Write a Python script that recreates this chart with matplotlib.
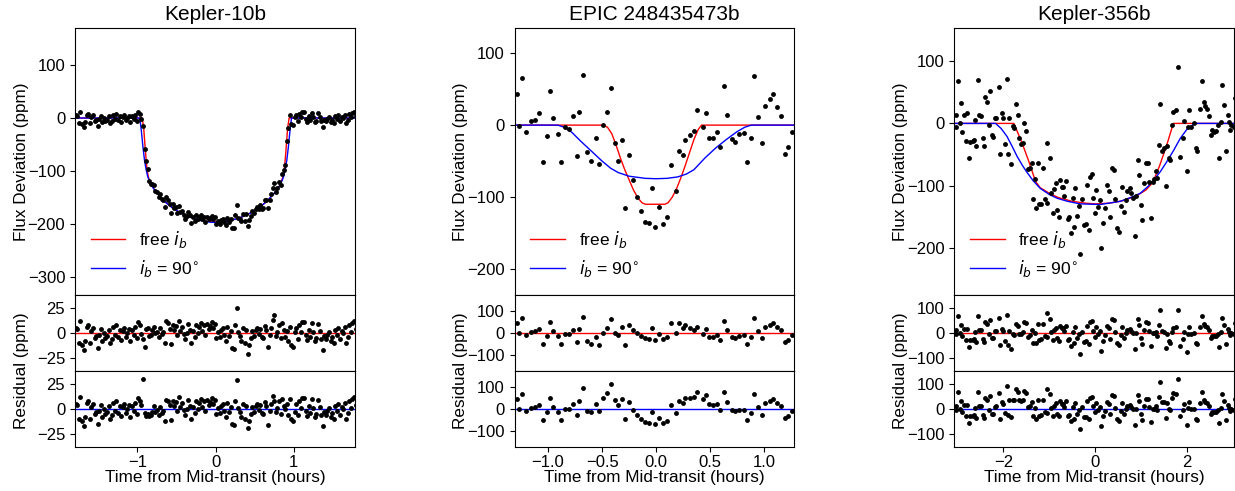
import matplotlib
matplotlib.use("Agg")
import matplotlib.pyplot as plt

plt.rcParams["font.family"] = ["Liberation Sans", "DejaVu Sans"]
plt.rcParams["mathtext.fontset"] = "dejavusans"

titles = ["Kepler-10b", "EPIC 248435473b", "Kepler-356b"]

# ---------------- Kepler-10b (binned light curve, hours / ppm) ----------------
k10_t = [-1.79, -1.77, -1.75, -1.73, -1.71, -1.69, -1.67, -1.65, -1.63, -1.61,
         -1.59, -1.57, -1.55, -1.53, -1.51, -1.49, -1.47, -1.45, -1.43, -1.41,
         -1.39, -1.37, -1.35, -1.33, -1.31, -1.29, -1.27, -1.25, -1.23, -1.21,
         -1.19, -1.17, -1.15, -1.13, -1.11, -1.09, -1.07, -1.05, -1.03, -1.01,
         -0.99, -0.97, -0.95, -0.93, -0.91, -0.89, -0.87, -0.85, -0.83, -0.81,
         -0.79, -0.77, -0.75, -0.73, -0.71, -0.69, -0.67, -0.65, -0.63, -0.61,
         -0.59, -0.57, -0.55, -0.53, -0.51, -0.49, -0.47, -0.45, -0.43, -0.41,
         -0.39, -0.37, -0.35, -0.33, -0.31, -0.29, -0.27, -0.25, -0.23, -0.21,
         -0.19, -0.17, -0.15, -0.13, -0.11, -0.09, -0.07, -0.05, -0.03, -0.01,
         0.01, 0.03, 0.05, 0.07, 0.09, 0.11, 0.13, 0.15, 0.17, 0.19,
         0.21, 0.23, 0.25, 0.27, 0.29, 0.31, 0.33, 0.35, 0.37, 0.39,
         0.41, 0.43, 0.45, 0.47, 0.49, 0.51, 0.53, 0.55, 0.57, 0.59,
         0.61, 0.63, 0.65, 0.67, 0.69, 0.71, 0.73, 0.75, 0.77, 0.79,
         0.81, 0.83, 0.85, 0.87, 0.89, 0.91, 0.93, 0.95, 0.97, 0.99,
         1.01, 1.03, 1.05, 1.07, 1.09, 1.11, 1.13, 1.15, 1.17, 1.19,
         1.21, 1.23, 1.25, 1.27, 1.29, 1.31, 1.33, 1.35, 1.37, 1.39,
         1.41, 1.43, 1.45, 1.47, 1.49, 1.51, 1.53, 1.55, 1.57, 1.59,
         1.61, 1.63, 1.65, 1.67, 1.69, 1.71, 1.73, 1.75, 1.77, 1.79]
k10_flux = [5, 4, -10, 12, -12, -17, -8, 6, 8, -10,
            2, 5, -5, -3, -15, -2, 4, -8, 0, -5,
            -3, 3, -10, -6, 6, -2, 8, -4, 3, -7,
            2, 5, -4, 0, 4, -8, 3, -2, 6, -5,
            11, 8, -1, -16, -59, -81, -97, -118, -124, -125,
            -127, -137, -140, -149, -144, -153, -154, -168, -149, -154,
            -163, -180, -163, -170, -168, -179, -166, -178, -175, -183,
            -190, -185, -177, -184, -198, -187, -194, -183, -191, -186,
            -183, -191, -186, -196, -186, -191, -188, -185, -191, -187,
            -201, -195, -200, -192, -190, -197, -202, -188, -196, -191,
            -207, -207, -183, -165, -188, -191, -195, -181, -195, -181,
            -203, -193, -185, -176, -180, -172, -168, -172, -165, -171,
            -169, -154, -155, -169, -154, -144, -132, -123, -140, -132,
            -120, -127, -105, -99, -89, -43, -18, 6, -12, -14,
            1, 5, -6, 8, 1, 11, 11, -2, -7, 3,
            -4, 10, 1, -8, -5, 9, 2, -6, -17, -3,
            -6, -2, 1, -8, -4, -10, 3, -2, 5, -6,
            2, 0, 6, -10, -4, 8, 1, 10, 12, 4]
k10_res_free = [5, 4, -10, 12, -12, -17, -8, 6, 8, -10,
                2, 5, -5, -3, -15, -2, 4, -8, 0, -5,
                -3, 3, -10, -6, 6, -2, 8, -4, 3, -7,
                2, 5, -4, 0, 4, -8, 3, -2, 6, -5,
                11, 8, -1, -6, -14, 4, 5, -3, -2, 3,
                6, 0, 1, -4, 5, -1, 1, -10, 12, 10,
                4, -11, 8, 3, 7, -2, 12, 2, 6, -1,
                -6, 0, 9, 3, -10, 2, -4, 8, 0, 6,
                10, 2, 8, -2, 9, 4, 7, 11, 5, 9,
                -5, 1, -4, 3, 5, -2, -8, 6, -3, 2,
                -15, -16, 8, 25, 1, -3, -8, 5, -10, 3,
                -21, -12, -5, 2, -3, 3, 5, -1, 4, -4,
                -5, 7, 3, -14, -2, 5, 13, 18, -3, 1,
                8, -5, 10, 3, -4, 2, -8, 6, -12, -14,
                1, 5, -6, 8, 1, 11, 11, -2, -7, 3,
                -4, 10, 1, -8, -5, 9, 2, -6, -17, -3,
                -6, -2, 1, -8, -4, -10, 3, -2, 5, -6,
                2, 0, 6, -10, -4, 8, 1, 10, 12, 4]
k10_res_90 = [5, 4, -10, 12, -12, -17, -8, 6, 8, -10,
              2, 5, -5, -3, -15, -2, 4, -8, 0, -5,
              -3, 3, -10, -6, 6, -2, 8, -4, 3, -7,
              2, 5, -4, 0, 4, -8, 3, -2, 6, -5,
              11, 8, 4, 30, -4, -7, -5, -7, -6, -3,
              3, -3, -1, -6, 2, -4, -2, -12, 9, 8,
              4, -11, 8, 3, 7, -2, 12, 2, 6, -1,
              -6, 0, 9, 3, -10, 2, -4, 8, 0, 6,
              10, 2, 8, -2, 9, 4, 7, 11, 5, 9,
              -5, 1, -4, 3, 5, -2, -8, 6, -3, 2,
              -15, -16, 8, 29, 1, -3, -8, 5, -10, 3,
              -19, -12, -5, 2, -3, 3, 5, -1, 4, -4,
              -5, 7, 3, -16, -2, 5, 13, 8, -3, 1,
              8, -5, 10, 3, 0, 5, -6, 10, -10, -12,
              -3, 5, -6, 8, 1, 11, 11, -2, -7, 3,
              -4, 10, 1, -8, -5, 9, 2, -6, -17, -3,
              -6, -2, 1, -8, -4, -10, 3, -2, 5, -6,
              2, 0, 6, -10, -4, 8, 1, 10, 12, 4]
k10_free_t = [-1.80, -0.94, -0.92, -0.90, -0.88, -0.86, -0.82, -0.75, -0.65, -0.55,
              -0.45, -0.35, -0.25, -0.15, -0.05, 0.05, 0.15, 0.25, 0.35, 0.45,
              0.55, 0.65, 0.75, 0.82, 0.86, 0.88, 0.90, 0.92, 0.94, 1.80]
k10_free_f = [0, 0, -20, -60, -95, -112, -127, -142, -158, -170,
              -179, -186, -191, -194, -196, -196, -194, -191, -186, -179,
              -170, -158, -142, -127, -112, -95, -60, -20, 0, 0]
k10_90_t = [-1.80, -0.97, -0.95, -0.93, -0.91, -0.89, -0.87, -0.85, -0.82, -0.75,
            -0.65, -0.55, -0.45, -0.35, -0.25, -0.15, -0.05, 0.05, 0.15, 0.25,
            0.35, 0.45, 0.55, 0.65, 0.75, 0.82, 0.85, 0.87, 0.89, 0.91,
            0.93, 0.95, 0.97, 1.80]
k10_90_f = [0, 0, -25, -55, -80, -97, -110, -118, -128, -142,
            -158, -170, -179, -186, -191, -195, -197, -197, -195, -191,
            -186, -179, -170, -158, -142, -128, -118, -110, -97, -80,
            -55, -25, 0, 0]

# ---------------- EPIC 248435473b ----------------
ep_t = [-1.29, -1.27, -1.24, -1.20, -1.16, -1.12, -1.08, -1.05, -1.01, -0.98,
        -0.95, -0.91, -0.88, -0.84, -0.81, -0.77, -0.73, -0.71, -0.68, -0.64,
        -0.60, -0.56, -0.53, -0.49, -0.45, -0.42, -0.38, -0.35, -0.32, -0.29,
        -0.25, -0.21, -0.18, -0.14, -0.10, -0.07, -0.04, -0.01, 0.03, 0.06,
        0.10, 0.14, 0.18, 0.21, 0.25, 0.27, 0.31, 0.35, 0.38, 0.43,
        0.46, 0.49, 0.53, 0.56, 0.59, 0.63, 0.66, 0.70, 0.73, 0.77,
        0.81, 0.84, 0.88, 0.91, 0.94, 0.98, 1.01, 1.05, 1.08, 1.12,
        1.16, 1.19, 1.22, 1.26]
ep_flux = [43, -1, 66, -10, 6, 7, 17, -51, -15, 48,
           10, -12, -51, -3, -6, 13, -43, 18, 70, -38,
           -50, -18, -54, 0, 18, 52, -25, -50, -21, -115,
           -41, -76, -100, -119, -134, -136, -87, -141, -114, -137,
           -128, -56, -92, -36, -42, -21, -14, -8, 21, -3,
           17, -18, -18, -9, -30, 55, 14, -19, -23, -12,
           -11, -51, -18, 68, 11, -25, 27, 36, 43, 25,
           12, -40, -30, -9]
ep_res_free = [43, -1, 66, -10, 6, 7, 17, -51, -15, 48,
               10, -12, -51, -3, -6, 13, -43, 18, 70, -38,
               -50, -18, -54, 0, 21, 62, 0, -10, 29, -53,
               35, 14, -1, -13, -24, -26, 23, -31, -4, -27,
               -19, 46, -1, 45, 21, 35, 24, 12, 29, -3,
               17, -18, -18, -9, -30, 55, 14, -19, -23, -12,
               -11, -51, -18, 68, 11, -25, 27, 36, 43, 25,
               12, -40, -30, -9]
ep_res_90 = [43, -1, 66, -10, 6, 7, 17, -51, -15, 48,
             10, -12, -50, 1, 1, 24, -27, 37, 94, -8,
             -14, 24, -8, 51, 74, 112, 39, 16, 47, -46,
             30, -4, -27, -45, -60, -62, -12, -66, -40, -63,
             -54, 17, -20, 36, 28, 48, 51, 54, 78, 47,
             62, 22, 17, 21, -4, 77, 33, -4, -11, -3,
             -6, -48, -18, 68, 11, -25, 27, 36, 43, 25,
             12, -40, -30, -9]
ep_free_t = [-1.30, -0.49, -0.45, -0.41, -0.37, -0.33, -0.29, -0.25, -0.21, -0.17,
             -0.13, -0.10, 0.08, 0.11, 0.15, 0.19, 0.23, 0.27, 0.31, 0.35,
             0.39, 0.42, 1.30]
ep_free_f = [0, 0, -3, -12, -28, -46, -62, -76, -90, -101,
             -108, -110, -110, -108, -100, -88, -73, -56, -38, -20,
             -6, 0, 0]
ep_90_t = [-1.30, -0.91, -0.85, -0.78, -0.70, -0.60, -0.50, -0.42, -0.35, -0.25,
           -0.10, 0.0, 0.10, 0.20, 0.28, 0.35, 0.45, 0.55, 0.65, 0.75,
           0.82, 0.88, 1.30]
ep_90_f = [0, 0, -3, -10, -22, -36, -50, -60, -66, -71,
           -74, -74.5, -74, -72, -68, -62, -46, -32, -20, -9,
           -3, 0, 0]

# ---------------- Kepler-356b ----------------
k356_t = [-3.04, -3.02, -2.99, -2.95, -2.92, -2.89, -2.85, -2.81, -2.79, -2.75,
          -2.72, -2.67, -2.64, -2.62, -2.59, -2.55, -2.52, -2.49, -2.45, -2.42,
          -2.39, -2.36, -2.32, -2.28, -2.25, -2.22, -2.19, -2.15, -2.09, -2.07,
          -2.03, -2.01, -1.97, -1.92, -1.90, -1.87, -1.83, -1.80, -1.76, -1.73,
          -1.69, -1.65, -1.62, -1.58, -1.54, -1.50, -1.46, -1.43, -1.38, -1.36,
          -1.32, -1.29, -1.25, -1.22, -1.17, -1.14, -1.09, -1.05, -1.04, -0.99,
          -0.96, -0.92, -0.89, -0.86, -0.83, -0.79, -0.76, -0.72, -0.70, -0.67,
          -0.63, -0.60, -0.57, -0.53, -0.49, -0.46, -0.43, -0.40, -0.36, -0.33,
          -0.28, -0.24, -0.20, -0.18, -0.14, -0.12, -0.08, -0.05, -0.01, 0.01,
          0.05, 0.10, 0.13, 0.17, 0.21, 0.25, 0.29, 0.33, 0.37, 0.40,
          0.43, 0.48, 0.52, 0.56, 0.59, 0.63, 0.67, 0.70, 0.75, 0.78,
          0.82, 0.86, 0.89, 0.92, 0.96, 0.99, 1.02, 1.07, 1.10, 1.14,
          1.17, 1.21, 1.25, 1.28, 1.32, 1.35, 1.39, 1.42, 1.46, 1.49,
          1.53, 1.56, 1.60, 1.63, 1.68, 1.70, 1.75, 1.81, 1.85, 1.91,
          1.93, 1.99, 2.01, 2.05, 2.08, 2.14, 2.20, 2.22, 2.28, 2.32,
          2.36, 2.39, 2.43, 2.47, 2.51, 2.55, 2.59, 2.63, 2.67, 2.70,
          2.73, 2.76, 2.80, 2.85, 2.88, 2.91, 2.93, 2.96, 3.01, 3.04]
k356_flux = [-5, 13, 68, 1, 32, -13, 14, -28, 17, -55,
             -30, -28, -26, 5, -36, 69, 13, 12, -23, -36,
             43, 34, -3, 52, -19, -22, 9, 9, 59, -49,
             16, 9, -33, 72, -49, 8, -65, -4, -8, 31,
             14, -24, -33, -31, 1, -12, -73, -72, -63, -121,
             -89, -136, -63, -130, -129, -72, -121, -128, -31, -55,
             -111, -144, -105, -96, -139, -150, -91, -102, -102, -116,
             -93, -153, -150, -176, -120, -166, -104, -148, -133, -210,
             -122, -163, -162, -99, -171, -86, -81, -120, -144, -106,
             -134, -123, -200, -159, -136, -99, -108, -150, -71, -74,
             -122, -167, -174, -132, -102, -142, -123, -109, -104, -111,
             -119, -180, -117, -59, -82, -131, -155, -95, -63, -63,
             -94, -151, -94, -89, -76, -87, -34, 31, -45, -40,
             -100, -37, -56, -59, -3, 18, 22, 90, -54, -24,
             4, -76, -5, 22, -5, 0, -40, -45, 23, 68,
             34, 28, 23, 12, -19, -11, -14, -12, -3, -55,
             2, 61, 30, -44, 14, 3, -10, -2, -5, 41]
k356_res_free = [-5, 13, 68, 1, 32, -13, 14, -28, 17, -55,
                 -30, -28, -26, 5, -36, 69, 13, 12, -23, -36,
                 43, 34, -3, 52, -19, -22, 9, 9, 59, -49,
                 16, 9, -33, 72, -49, 8, -65, -4, -7, 36,
                 26, -3, -6, 3, 43, 38, -15, -8, 12, -42,
                 -1, -42, 35, -29, -25, 34, -13, -18, 79, 57,
                 2, -29, 11, 21, -21, -31, 29, 19, 19, 6,
                 29, -30, -26, -52, 5, -41, 22, -22, -6, -83,
                 5, -35, -34, 29, -43, 42, 48, 9, -15, 23,
                 -5, 6, -71, -31, -8, 29, 20, -23, 56, 52,
                 4, -42, -49, -8, 22, -19, -1, 12, 16, 8,
                 -1, -63, -1, 56, 31, -19, -44, 13, 43, 40,
                 7, -53, 1, 0, 4, -13, 32, 91, 6, 5,
                 -60, -3, -32, -41, 2, 18, 22, 90, -54, -24,
                 4, -76, -5, 22, -5, 0, -40, -45, 23, 68,
                 34, 28, 23, 12, -19, -11, -14, -12, -3, -55,
                 2, 61, 30, -44, 14, 3, -10, -2, -5, 41]
k356_res_90 = [-5, 13, 68, 1, 32, -13, 14, -28, 17, -55,
               -30, -28, -26, 5, -36, 69, 13, 12, -23, -36,
               43, 34, -3, 52, -19, -22, 9, 10, 64, -42,
               26, 21, -17, 93, -25, 36, -31, 34, 36, 80,
               68, 35, 30, 37, 73, 65, 8, 12, 26, -30,
               5, -39, 37, -28, -23, 35, -11, -16, 81, 59,
               4, -27, 13, 23, -19, -29, 31, 20, 21, 8,
               31, -28, -25, -50, 6, -39, 23, -20, -5, -81,
               7, -34, -33, 30, -41, 44, 49, 10, -14, 24,
               -4, 7, -70, -30, -7, 29, 20, -22, 56, 53,
               5, -41, -49, -7, 22, -19, -1, 12, 16, 8,
               -1, -64, -2, 55, 30, -20, -46, 11, 41, 39,
               6, -54, -1, 1, 10, -3, 46, 108, 28, 29,
               -35, 24, 1, -6, 44, 62, 59, 119, -30, -6,
               20, -66, 3, 28, -1, 1, -40, -45, 23, 68,
               34, 28, 23, 12, -19, -11, -14, -12, -3, -55,
               2, 61, 30, -44, 14, 3, -10, -2, -5, 41]
k356_free_t = [-3.05, -1.77, -1.60, -1.45, -1.30, -1.20, -1.00, -0.80, -0.50, -0.20,
               0.0, 0.30, 0.60, 0.90, 1.10, 1.25, 1.40, 1.55, 1.70, 3.05]
k356_free_f = [0, 0, -30, -60, -93, -103, -112, -119, -125, -128,
               -129, -128, -124, -116, -107, -95, -68, -36, 0, 0]
k356_90_t = [-3.05, -2.17, -2.05, -1.92, -1.80, -1.70, -1.58, -1.49, -1.35, -1.20,
             -1.00, -0.83, -0.60, -0.33, 0.11, 0.54, 0.80, 0.98, 1.15, 1.27,
             1.42, 1.56, 1.70, 1.85, 2.00, 2.17, 3.05]
k356_90_f = [0, 0, -8, -21, -38, -53, -68, -78, -92, -104,
             -114, -120, -125, -129, -130, -125, -118, -112, -101, -91,
             -77, -61, -44, -24, -9, 0, 0]

panels = [
    dict(t=k10_t, flux=k10_flux, r1=k10_res_free, r2=k10_res_90,
         mt1=k10_free_t, mf1=k10_free_f, mt2=k10_90_t, mf2=k10_90_f,
         xlim=(-1.8, 1.78), ylim=(-334, 170), rlim=38,
         xticks=[-1, 0, 1], yticks=[100, 0, -100, -200, -300], rticks=[25, 0, -25],
         xfmt="{:g}"),
    dict(t=ep_t, flux=ep_flux, r1=ep_res_free, r2=ep_res_90,
         mt1=ep_free_t, mf1=ep_free_f, mt2=ep_90_t, mf2=ep_90_f,
         xlim=(-1.31, 1.28), ylim=(-236, 135), rlim=172,
         xticks=[-1.0, -0.5, 0.0, 0.5, 1.0], yticks=[100, 0, -100, -200],
         rticks=[100, 0, -100], xfmt="{:.1f}"),
    dict(t=k356_t, flux=k356_flux, r1=k356_res_free, r2=k356_res_90,
         mt1=k356_free_t, mf1=k356_free_f, mt2=k356_90_t, mf2=k356_90_f,
         xlim=(-3.07, 3.02), ylim=(-275, 153), rlim=152,
         xticks=[-2, 0, 2], yticks=[100, 0, -100, -200], rticks=[100, 0, -100],
         xfmt="{:g}"),
]

fig = plt.figure(figsize=(12.35, 4.91), dpi=100)
gs = fig.add_gridspec(3, 3, height_ratios=[3.51, 1, 1], hspace=0, wspace=0.571,
                      left=0.0607, right=0.9992, top=0.943, bottom=0.0896)

fs_tick = 12
fs_lab = 12.3
for col, p in enumerate(panels):
    ax = fig.add_subplot(gs[0, col])
    ax1 = fig.add_subplot(gs[1, col], sharex=ax)
    ax2 = fig.add_subplot(gs[2, col], sharex=ax)

    ax.plot(p["t"], p["flux"], "o", color="k", ms=3.5, mew=0, zorder=3)
    ax.plot(p["mt1"], p["mf1"], color="r", lw=1, label="free $i_b$")
    ax.plot(p["mt2"], p["mf2"], color="b", lw=1, label="$i_b$ = 90$^{\\circ}$")
    ax.set_ylim(*p["ylim"])
    ax.set_yticks(p["yticks"])
    ax.set_title(titles[col], fontsize=15)
    ax.set_ylabel("Flux Deviation (ppm)", fontsize=fs_lab)
    ax.yaxis.set_label_coords(-0.165, 0.5)
    ax.legend(loc="lower left", frameon=False, fontsize=12.5)

    ax1.plot(p["t"], p["r1"], "o", color="k", ms=3.5, mew=0, zorder=3)
    ax1.axhline(0, color="r", lw=1)
    ax2.plot(p["t"], p["r2"], "o", color="k", ms=3.5, mew=0, zorder=3)
    ax2.axhline(0, color="b", lw=1)
    for a in (ax1, ax2):
        a.set_ylim(-p["rlim"], p["rlim"])
        a.set_yticks(p["rticks"])
    ax1.set_ylabel("Residual (ppm)", fontsize=fs_lab)
    ax1.yaxis.set_label_coords(-0.165, 0.0)

    ax2.set_xlim(*p["xlim"])
    ax2.set_xticks(p["xticks"])
    ax2.set_xticklabels([p["xfmt"].format(v).replace("-", "\u2212") for v in p["xticks"]])
    ax2.set_xlabel("Time from Mid-transit (hours)", fontsize=fs_lab, labelpad=0)
    ax2.tick_params(axis="x", pad=2.5)
    for a in (ax, ax1):
        a.tick_params(axis="x", which="both", bottom=False, labelbottom=False)
    for a in (ax, ax1, ax2):
        a.tick_params(labelsize=fs_tick)

fig.savefig("out.png", dpi=100)
